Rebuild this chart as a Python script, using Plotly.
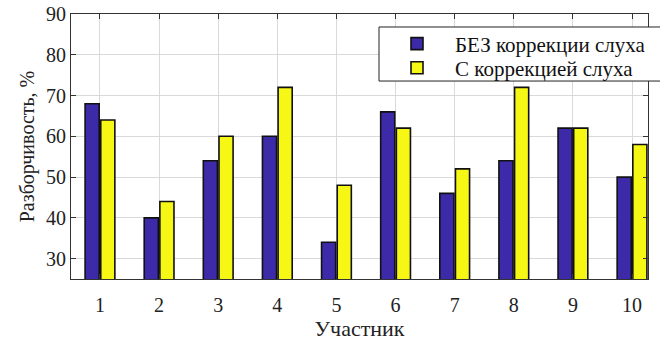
import plotly.graph_objects as go

categories = [1, 2, 3, 4, 5, 6, 7, 8, 9, 10]
without_correction = [68, 40, 54, 60, 34, 66, 46, 54, 62, 50]
with_correction = [64, 44, 60, 72, 48, 62, 52, 72, 62, 58]
series_names = ["БЕЗ коррекции слуха", "С коррекцией слуха"]
y_ticks = [30, 40, 50, 60, 70, 80, 90]

FONT = "Liberation Serif, Times New Roman, serif"

fig = go.Figure()
fig.add_trace(go.Bar(x=categories, y=without_correction, name=series_names[0], legend="legend",
                     showlegend=True,
                     marker=dict(color="#3D2AA8", line=dict(color="#111111", width=1.6))))
fig.add_trace(go.Bar(x=categories, y=with_correction, name=series_names[1], legend="legend2",
                     showlegend=True,
                     marker=dict(color="#F7F715", line=dict(color="#111111", width=1.6))))

# legend frame (both legend rows share one box, as in the original)
fig.add_shape(type="rect", xref="paper", yref="paper", x0=0.5338, x1=1.06, y0=0.747, y1=0.951,
              fillcolor="white", line=dict(color="#222222", width=1), layer="above")

legend_style = dict(xanchor="left", yanchor="middle", bgcolor="rgba(0,0,0,0)", borderwidth=0,
                    font=dict(family=FONT, size=21, color="#111111"), itemwidth=66,
                    visible=True)

fig.update_layout(
    width=660, height=344,
    showlegend=True,
    margin=dict(l=71, r=12, t=14, b=65, autoexpand=False),
    paper_bgcolor="white", plot_bgcolor="white",
    barmode="group", bargap=0.47, bargroupgap=0.1,
    font=dict(family=FONT, size=20, color="#222222"),
    legend=dict(x=0.5338, y=0.887, **legend_style),
    legend2=dict(x=0.5338, y=0.796, **legend_style),
    xaxis=dict(range=[0.51, 10.27], tickvals=categories, ticktext=[str(c) for c in categories],
               showgrid=True, gridcolor="#D9D9D9", gridwidth=1,
               showline=True, linecolor="#333333", linewidth=1, mirror="ticks",
               ticks="inside", ticklen=5, tickcolor="#333333", ticklabelstandoff=8,
               tickfont=dict(family=FONT, size=20), automargin=False,
               title=dict(text="Участник", font=dict(family=FONT, size=22), standoff=2),
               zeroline=False),
    yaxis=dict(range=[25, 90], tickvals=y_ticks,
               showgrid=True, gridcolor="#D9D9D9", gridwidth=1,
               showline=True, linecolor="#333333", linewidth=1, mirror="ticks",
               ticks="inside", ticklen=5, tickcolor="#333333",
               tickfont=dict(family=FONT, size=20), automargin=False,
               title=dict(text="Разборчивость, %", font=dict(family=FONT, size=20), standoff=6),
               zeroline=False),
)

fig.write_html("out.html", post_script="document.body.style.margin='0';",
               config={"displayModeBar": False})
